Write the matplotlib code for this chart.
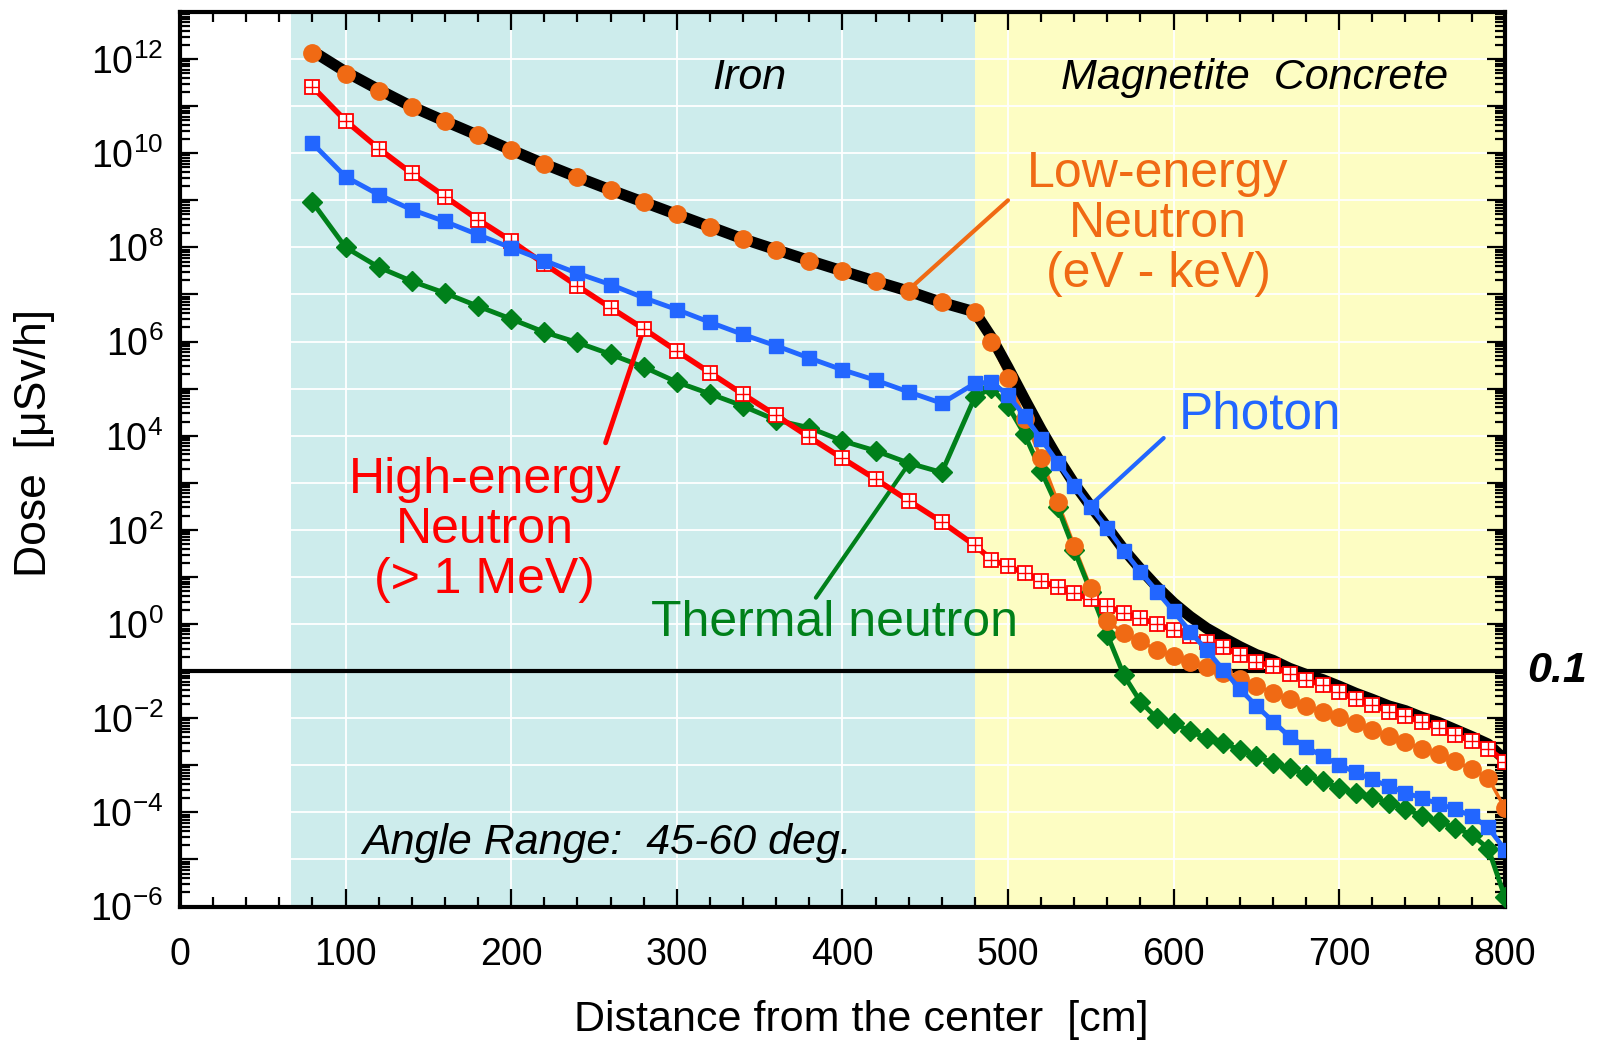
import numpy as np
import matplotlib.pyplot as plt
import matplotlib.transforms as mtransforms
from matplotlib.ticker import MultipleLocator, LogLocator, FuncFormatter, NullFormatter

plt.rcParams['font.family'] = ['Liberation Sans', 'DejaVu Sans']
plt.rcParams['mathtext.fontset'] = 'custom'
plt.rcParams['mathtext.rm'] = 'Liberation Sans'
plt.rcParams['mathtext.it'] = 'Liberation Sans:italic'
plt.rcParams['mathtext.bf'] = 'Liberation Sans:bold'

# distance from the center [cm]
distance = [80, 100, 120, 140, 160, 180, 200, 220, 240, 260, 280, 300, 320, 340, 360,
            380, 400, 420, 440, 460, 480,
            490, 500, 510, 520, 530, 540, 550, 560, 570, 580, 590, 600, 610, 620, 630,
            640, 650, 660, 670, 680, 690, 700, 710, 720, 730, 740, 750, 760, 770, 780,
            790, 800]

# dose values as log10(uSv/h)
total_log = [12.17, 11.73, 11.35, 10.99, 10.68, 10.38, 10.07, 9.77, 9.49, 9.22, 8.96, 8.70,
             8.44, 8.18, 7.95, 7.72, 7.50, 7.28, 7.07, 6.83, 6.63,
             6.09, 5.45, 4.78, 4.13, 3.53, 2.98, 2.50, 2.05, 1.58, 1.17, 0.79, 0.45, 0.16,
             -0.09, -0.29, -0.48, -0.65, -0.77, -0.94, -1.07, -1.18, -1.32, -1.47, -1.60,
             -1.74, -1.84, -1.98, -2.09, -2.24, -2.39, -2.55, -2.88]

low_energy_log = [12.12, 11.69, 11.33, 10.99, 10.68, 10.38, 10.07, 9.77, 9.49, 9.22, 8.96,
                  8.70, 8.44, 8.18, 7.95, 7.72, 7.50, 7.28, 7.07, 6.83, 6.63,
                  5.99, 5.23, 4.36, 3.52, 2.60, 1.66, 0.76, 0.07, -0.20, -0.37, -0.55, -0.68,
                  -0.80, -0.92, -1.05, -1.17, -1.31, -1.46, -1.60, -1.74, -1.86, -1.97,
                  -2.10, -2.25, -2.38, -2.51, -2.65, -2.77, -2.91, -3.08, -3.27, -3.91]

photon_log = [10.21, 9.50, 9.12, 8.80, 8.55, 8.27, 7.99, 7.72, 7.45, 7.21, 6.93, 6.68, 6.41,
              6.15, 5.91, 5.65, 5.40, 5.18, 4.93, 4.69, 5.11,
              5.14, 4.86, 4.42, 3.93, 3.43, 2.94, 2.48, 2.03, 1.55, 1.11, 0.69, 0.27, -0.16,
              -0.56, -0.97, -1.38, -1.74, -2.07, -2.39, -2.61, -2.81, -2.99, -3.15, -3.30,
              -3.45, -3.58, -3.70, -3.82, -3.93, -4.08, -4.32, -4.79]

thermal_log = [8.96, 8.00, 7.58, 7.28, 7.03, 6.75, 6.48, 6.20, 5.98, 5.73, 5.46, 5.14, 4.89,
               4.63, 4.33, 4.17, 3.89, 3.68, 3.42, 3.22, 4.82,
               5.01, 4.63, 4.03, 3.25, 2.48, 1.57, 0.69, -0.23, -1.09, -1.65, -2.00, -2.10,
               -2.28, -2.42, -2.53, -2.67, -2.81, -2.95, -3.06, -3.20, -3.34, -3.48, -3.59,
               -3.68, -3.80, -3.92, -4.08, -4.19, -4.33, -4.47, -4.77, -5.79]

high_energy_log = [11.41, 10.69, 10.10, 9.57, 9.08, 8.59, 8.14, 7.65, 7.18, 6.72, 6.27, 5.80,
                   5.34, 4.88, 4.43, 3.97, 3.52, 3.08, 2.62, 2.17, 1.67,
                   1.37, 1.23, 1.08, 0.92, 0.78, 0.65, 0.53, 0.38, 0.24, 0.12, 0.00, -0.13,
                   -0.25, -0.39, -0.49, -0.66, -0.80, -0.90, -1.06, -1.19, -1.29, -1.45,
                   -1.60, -1.72, -1.86, -1.96, -2.09, -2.21, -2.35, -2.49, -2.65, -2.92]

# shield regions [cm]
iron_start = 67
iron_end = 480
concrete_end = 800

cyan = '#cdecec'
yellow = '#fdfdc3'
orange = '#f06a14'
blue = '#2266ff'
green = '#00801a'
red = '#ff0000'

x = np.array(distance)

fig = plt.figure(figsize=(16, 10.42), dpi=100)
ax = fig.add_axes([0.1125, 0.13, 0.828, 0.8585])

ax.axvspan(iron_start, iron_end, color=cyan, lw=0, zorder=0)
ax.axvspan(iron_end, concrete_end, color=yellow, lw=0, zorder=0)

# low-energy line goes under the total curve, its markers on top
ax.plot(x, 10 ** np.array(low_energy_log), color=orange, lw=2.5, zorder=1.5)
ax.plot(x, 10 ** np.array(total_log), color='black', lw=8, zorder=2, solid_capstyle='round')
ax.plot(x, 10 ** np.array(thermal_log), color=green, lw=3.5, marker='D', ms=10,
        mec=green, zorder=3)
ax.plot(x, 10 ** np.array(high_energy_log), color=red, lw=4, marker='s', ms=9.5,
        mfc='white', mec=red, mew=1.3, zorder=4)
ax.plot(x, 10 ** np.array(high_energy_log), ls='none', marker='+', ms=9.5,
        mec=red, mew=1.0, zorder=4.1)
ax.plot(x, 10 ** np.array(low_energy_log), ls='none', marker='o', ms=12.5,
        color=orange, mec=orange, zorder=5)
ax.plot(x, 10 ** np.array(photon_log), color=blue, lw=3.5, marker='s', ms=10.5,
        mec=blue, zorder=6)

ax.axhline(0.1, color='black', lw=3, zorder=2.5)
trans = mtransforms.blended_transform_factory(ax.transAxes, ax.transData)
ax.text(1.017, 0.1, '0.1', transform=trans, ha='left', va='center', fontsize=31,
        fontweight='bold', fontstyle='italic')

ax.set_xlim(0, 800)
ax.set_yscale('log')
ax.set_ylim(1e-6, 1e13)

ax.xaxis.set_major_locator(MultipleLocator(100))
ax.xaxis.set_minor_locator(MultipleLocator(20))
ax.yaxis.set_major_locator(LogLocator(base=10, numticks=40))
ax.yaxis.set_minor_locator(LogLocator(base=10, subs=np.arange(2, 10), numticks=40))
ax.yaxis.set_minor_formatter(NullFormatter())


def ylabel_fmt(v, pos):
    e = int(round(np.log10(v)))
    if e % 2:
        return ''
    return r'$\mathregular{10^{%d}}$' % e


ax.yaxis.set_major_formatter(FuncFormatter(ylabel_fmt))

ax.set_axisbelow(True)
ax.grid(True, which='major', color='white', lw=1.3)

ax.tick_params(which='both', direction='in', top=True, right=True, width=1.6, labelsize=27)
ax.tick_params(which='major', length=13)
ax.tick_params(which='minor', length=7)
ax.tick_params(axis='x', which='major', pad=22)
ax.tick_params(axis='y', which='major', pad=12)
for s in ax.spines.values():
    s.set_linewidth(3)

ax.set_xlabel('Distance from the center  [cm]', fontsize=31)
ax.set_ylabel('Dose  [\u03bcSv/h]', fontsize=32)
ax.xaxis.set_label_coords(0.514, -0.1266)
ax.yaxis.set_label_coords(-0.110, 0.518)
ax.xaxis.label.set_verticalalignment('center')
ax.yaxis.label.set_verticalalignment('center')

# region names
ax.text(344, 10 ** 11.6, 'Iron', fontsize=31, fontstyle='italic', ha='center', va='center')
ax.text(649, 10 ** 11.6, 'Magnetite  Concrete', fontsize=31, fontstyle='italic',
        ha='center', va='center')
ax.text(258, 10 ** -4.66, 'Angle Range:  45-60 deg.', fontsize=31, fontstyle='italic',
        ha='center', va='center')

# component labels with pointer lines
ax.text(590.6, 10 ** 8.5, 'Low-energy\nNeutron\n(eV - keV)', color=orange, fontsize=36,
        ha='center', va='center', linespacing=1.12)
ax.annotate('', xy=(440, 10 ** 7.1), xytext=(500, 1e9),
            arrowprops=dict(arrowstyle='-', color=orange, lw=3, shrinkA=0, shrinkB=0))

ax.text(652, 10 ** 4.43, 'Photon', color=blue, fontsize=37, ha='center', va='center')
ax.annotate('', xy=(551, 10 ** 2.56), xytext=(594, 10 ** 3.95),
            arrowprops=dict(arrowstyle='-', color=blue, lw=3, shrinkA=0, shrinkB=0))

ax.text(184, 10 ** 2.0, 'High-energy\nNeutron\n(> 1 MeV)', color=red, fontsize=36,
        ha='center', va='center', linespacing=1.12)
ax.annotate('', xy=(280, 10 ** 6.27), xytext=(257, 10 ** 3.85),
            arrowprops=dict(arrowstyle='-', color=red, lw=3.5, shrinkA=0, shrinkB=0))

ax.text(395.5, 10 ** 0.02, 'Thermal neutron', color=green, fontsize=36, ha='center',
        va='center')
ax.annotate('', xy=(441, 10 ** 3.45), xytext=(384, 10 ** 0.56),
            arrowprops=dict(arrowstyle='-', color=green, lw=3, shrinkA=0, shrinkB=0))

fig.savefig('out.png', dpi=100)
